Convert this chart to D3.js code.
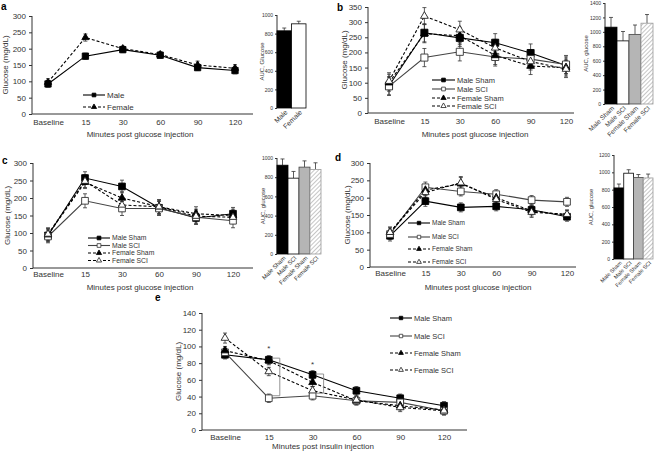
<!DOCTYPE html>
<html><head><meta charset="utf-8">
<script src="https://cdn.jsdelivr.net/npm/d3@7"></script>
<style>body{margin:0;background:#fff} text{font-family:"Liberation Sans",Arial,sans-serif;fill:#333}</style>
</head><body><svg id="c" width="654" height="451"></svg>
<script>
// ---------------- DATA ----------------
const timeLabels = ["Baseline","15","30","60","90","120"];
const groups2 = ["Male","Female"];
const groups4 = ["Male Sham","Male SCI","Female Sham","Female SCI"];

// panel a
const aMale = [92,177,197,180,142,133];
const aMaleErr = [10,9,9,9,9,10];
const aFemale = [97,234,200,182,150,140];
const aFemaleErr = [11,11,8,8,12,11];
const aAUC = [830,905];
const aAUCErr = [30,28];

// panel b
const bMaleSham = [90,265,248,232,198,157];
const bMaleShamErr = [30,30,28,30,30,28];
const bMaleSCI = [88,183,202,185,178,160];
const bMaleSCIErr = [30,30,30,30,30,30];
const bFemaleSham = [100,262,255,190,155,150];
const bFemaleShamErr = [28,30,28,30,28,28];
const bFemaleSCI = [105,320,275,215,170,145];
const bFemaleSCIErr = [28,28,28,28,28,28];
const bAUC = [1065,875,965,1120];
const bAUCErr = [135,130,130,120];

// panel c
const cMaleSham = [93,257,233,172,143,155];
const cMaleShamErr = [18,18,18,20,18,18];
const cMaleSCI = [90,192,170,170,145,135];
const cMaleSCIErr = [18,20,20,20,20,20];
const cFemaleSham = [95,245,200,175,155,150];
const cFemaleShamErr = [18,18,18,20,20,18];
const cFemaleSCI = [97,248,180,175,148,145];
const cFemaleSCIErr = [18,18,18,20,20,18];
const cAUC = [925,790,905,880];
const cAUCErr = [65,70,65,70];

// panel d
const dMaleSham = [90,190,172,175,165,145];
const dMaleShamErr = [15,15,13,13,13,13];
const dMaleSCI = [95,230,218,210,193,188];
const dMaleSCIErr = [15,15,13,13,13,13];
const dFemaleSham = [100,222,240,200,162,150];
const dFemaleShamErr = [15,15,18,15,15,13];
const dFemaleSCI = [100,215,243,195,158,152];
const dFemaleSCIErr = [15,15,18,15,15,13];
const dAUC = [820,990,940,935];
const dAUCErr = [45,40,35,45];

// panel e
const eMaleSham = [90,84,66,47,38,29];
const eMaleShamErr = [5,5,5,5,5,5];
const eMaleSCI = [93,38,41,35,33,23];
const eMaleSCIErr = [5,5,5,5,5,5];
const eFemaleSham = [95,83,57,35,29,24];
const eFemaleShamErr = [5,5,5,5,5,5];
const eFemaleSCI = [110,70,47,36,27,23];
const eFemaleSCIErr = [6,5,5,5,5,5];
const eBrackets = [{t:"15",hi:86,lo:41},{t:"30",hi:67,lo:44}];
const eStars = [{t:"15",v:100},{t:"30",v:81}];

// ---------------- STYLES ----------------
const styles = {
  "Male":        {marker:d3.symbolSquare,   fill:"#000", stroke:"#000", line:"#000", dash:null},
  "Female":      {marker:d3.symbolTriangle, fill:"#000", stroke:"#000", line:"#000", dash:"3,2"},
  "Male Sham":   {marker:d3.symbolSquare,   fill:"#000", stroke:"#000", line:"#000", dash:null},
  "Male SCI":    {marker:d3.symbolSquare,   fill:"#fff", stroke:"#333", line:"#444", dash:null},
  "Female Sham": {marker:d3.symbolTriangle, fill:"#000", stroke:"#000", line:"#000", dash:"3,2"},
  "Female SCI":  {marker:d3.symbolTriangle, fill:"#fff", stroke:"#222", line:"#000", dash:"3,2"}
};
const barFill = {"Male":"#000","Female":"#fff","Male Sham":"#000","Male SCI":"#fff","Female Sham":"#b5b5b5","Female SCI":"url(#hatch)"};
const barStroke = {"Male":"#000","Female":"#000","Male Sham":"#000","Male SCI":"#000","Female Sham":"#444","Female SCI":"#999"};

const svg = d3.select("#c");
const defs = svg.append("defs");
const pat = defs.append("pattern").attr("id","hatch").attr("patternUnits","userSpaceOnUse")
  .attr("width",3).attr("height",3).attr("patternTransform","rotate(45)");
pat.append("rect").attr("width",3).attr("height",3).attr("fill","#fff");
pat.append("line").attr("x1",0).attr("y1",0).attr("x2",0).attr("y2",3).attr("stroke","#a8a8a8").attr("stroke-width",1.3);

function linePanel(cfg){
  const g = svg.append("g");
  const x = d3.scalePoint().domain(timeLabels).range(cfg.xr);
  const y = d3.scaleLinear().domain(cfg.yd).range(cfg.yr);
  const ya = g.append("g").attr("transform",`translate(${cfg.ax[0]},0)`)
    .call(d3.axisLeft(y).tickValues(d3.range(cfg.yd[0],cfg.yd[1]+1,cfg.ystep)).tickSize(3).tickSizeOuter(0).tickPadding(3));
  ya.selectAll("text").attr("font-size",8).attr("fill","#333");
  ya.select(".domain").attr("stroke","#333").attr("d",`M0,${cfg.yr[0]}V${cfg.yr[1]}`);
  ya.selectAll(".tick line").attr("stroke","#333");
  g.append("line").attr("x1",cfg.ax[0]).attr("x2",cfg.ax[1]).attr("y1",cfg.yr[0]).attr("y2",cfg.yr[0]).attr("stroke","#333");
  const xa = g.append("g").attr("transform",`translate(0,${cfg.yr[0]})`)
    .call(d3.axisBottom(x).tickSize(0).tickPadding(cfg.xpad||5));
  xa.select(".domain").remove();
  xa.selectAll("text").attr("font-size",8).attr("fill","#333");
  g.append("text").attr("x",cfg.titleX).attr("y",cfg.titleY).attr("text-anchor","middle").attr("font-size",8).text(cfg.title);
  g.append("text").attr("transform",`translate(${cfg.ylx},${(cfg.yr[0]+cfg.yr[1])/2}) rotate(-90)`)
    .attr("text-anchor","middle").attr("font-size",8).attr("dy","0.35em").text("Glucose (mg/dL)");
  cfg.series.forEach(s=>{
    s.values.forEach((v,i)=>{
      const cx = x(timeLabels[i]);
      const e = s.err[i];
      const eg = g.append("g").attr("stroke","#333").attr("stroke-width",0.8);
      eg.append("line").attr("x1",cx).attr("x2",cx).attr("y1",y(v-e)).attr("y2",y(v+e));
      eg.append("line").attr("x1",cx-2).attr("x2",cx+2).attr("y1",y(v-e)).attr("y2",y(v-e));
      eg.append("line").attr("x1",cx-2).attr("x2",cx+2).attr("y1",y(v+e)).attr("y2",y(v+e));
    });
  });
  cfg.series.forEach(s=>{
    const st = styles[s.name];
    g.append("path").datum(s.values)
      .attr("d",d3.line().x((d,i)=>x(timeLabels[i])).y(d=>y(d)))
      .attr("fill","none").attr("stroke",st.line).attr("stroke-width",1.1)
      .attr("stroke-dasharray",st.dash);
  });
  cfg.series.forEach(s=>{
    const st = styles[s.name];
    const size = st.marker===d3.symbolSquare ? cfg.sq : cfg.tri;
    g.selectAll(null).data(s.values).join("path")
      .attr("transform",(d,i)=>`translate(${x(timeLabels[i])},${y(d)})`)
      .attr("d",d3.symbol(st.marker,size))
      .attr("fill",st.fill).attr("stroke",st.stroke).attr("stroke-width",0.9);
  });
  const L = cfg.legend;
  cfg.series.forEach((s,i)=>{
    const st = styles[s.name];
    const ly = L.ys[i];
    g.append("line").attr("x1",L.x0).attr("x2",L.x1).attr("y1",ly).attr("y2",ly)
      .attr("stroke",st.line).attr("stroke-width",1.1).attr("stroke-dasharray",st.dash);
    const size = st.marker===d3.symbolSquare ? L.sq : L.tri;
    g.append("path").attr("transform",`translate(${(L.x0+L.x1)/2},${ly})`)
      .attr("d",d3.symbol(st.marker,size)).attr("fill",st.fill).attr("stroke",st.stroke).attr("stroke-width",0.8);
    g.append("text").attr("x",L.x1+2).attr("y",ly).attr("dy","0.35em").attr("font-size",L.fs).text(s.name);
  });
  return {g,x,y};
}

function barPanel(cfg){
  const g = svg.append("g");
  const x = d3.scaleBand().domain(cfg.groups).range([cfg.x0,cfg.x1]).padding(0);
  const y = d3.scaleLinear().domain(cfg.yd).range(cfg.yr);
  const ya = g.append("g").attr("transform",`translate(${cfg.x0},0)`)
    .call(d3.axisLeft(y).tickValues(d3.range(0,cfg.yd[1]+1,200)).tickFormat(d3.format("d")).tickSize(2).tickSizeOuter(0).tickPadding(2));
  ya.selectAll("text").attr("font-size",5).attr("fill","#333");
  ya.select(".domain").attr("stroke","#333").attr("d",`M0,${cfg.yr[0]}V${cfg.yr[1]}`);
  ya.selectAll(".tick line").attr("stroke","#333");
  cfg.values.forEach((v,i)=>{
    const cx = x(cfg.groups[i]) + x.bandwidth()/2;
    const e = cfg.err[i];
    g.append("line").attr("x1",cx).attr("x2",cx).attr("y1",y(v)).attr("y2",y(v+e)).attr("stroke","#333").attr("stroke-width",0.8);
    g.append("line").attr("x1",cx-2).attr("x2",cx+2).attr("y1",y(v+e)).attr("y2",y(v+e)).attr("stroke","#333").attr("stroke-width",0.8);
  });
  g.selectAll(null).data(cfg.values).join("rect")
    .attr("x",(d,i)=>x(cfg.groups[i])).attr("width",x.bandwidth())
    .attr("y",d=>y(d)).attr("height",d=>y(0)-y(d))
    .attr("fill",(d,i)=>barFill[cfg.groups[i]]).attr("stroke",(d,i)=>barStroke[cfg.groups[i]]).attr("stroke-width",0.8);
  cfg.groups.forEach(n=>{
    const cx = x(n)+x.bandwidth()/2;
    g.append("text").attr("transform",`translate(${cx+2},${cfg.yr[0]+3}) rotate(-45)`)
      .attr("text-anchor","end").attr("dy","0.35em").attr("font-size",cfg.fs||6).text(n);
  });
  g.append("text").attr("transform",`translate(${cfg.lx},${(cfg.yr[0]+cfg.yr[1])/2}) rotate(-90)`)
    .attr("text-anchor","middle").attr("dy","0.35em").attr("font-size",6).text(cfg.label);
}

function letter(t,x,y){
  svg.append("text").attr("x",x).attr("y",y).attr("font-size",10).attr("font-weight","bold").style("fill","#000").text(t);
}

const ser4 = (ms,mse,mc,mce,fs,fse,fc,fce)=>[
  {name:"Male Sham",values:ms,err:mse},{name:"Male SCI",values:mc,err:mce},
  {name:"Female Sham",values:fs,err:fse},{name:"Female SCI",values:fc,err:fce}];

// a
linePanel({xr:[48,235],ax:[32,253],yd:[0,300],yr:[114,16],ystep:50,
  title:"Minutes post glucose injection",titleX:140,titleY:137,ylx:5,sq:40,tri:22,
  series:[{name:"Male",values:aMale,err:aMaleErr},{name:"Female",values:aFemale,err:aFemaleErr}],
  legend:{x0:83,x1:105,ys:[95,107],fs:8,sq:14,tri:12}});
barPanel({groups:groups2,values:aAUC,err:aAUCErr,x0:277,x1:306,yd:[0,1000],yr:[108,15],lx:262,label:"AUC, Glucose",fs:7});
letter("a",1,10);

// b
linePanel({xr:[389,566],ax:[368,574],yd:[0,350],yr:[113,7],ystep:50,
  title:"Minutes post glucose injection",titleX:475,titleY:137,ylx:344,sq:50,tri:26,
  series:ser4(bMaleSham,bMaleShamErr,bMaleSCI,bMaleSCIErr,bFemaleSham,bFemaleShamErr,bFemaleSCI,bFemaleSCIErr),
  legend:{x0:432,x1:455,ys:[80,89,98,106],fs:7.5,sq:14,tri:12}});
barPanel({groups:groups4,values:bAUC,err:bAUCErr,x0:605,x1:653,yd:[0,1400],yr:[104,3],lx:586,label:"AUC, glucose",fs:6.5});
letter("b",337,11);

// c
linePanel({xr:[48,233],ax:[33,253],yd:[0,300],yr:[268,163],ystep:50,
  title:"Minutes post glucose injection",titleX:140,titleY:290,ylx:7,sq:45,tri:24,xpad:3,
  series:ser4(cMaleSham,cMaleShamErr,cMaleSCI,cMaleSCIErr,cFemaleSham,cFemaleShamErr,cFemaleSCI,cFemaleSCIErr),
  legend:{x0:88,x1:110,ys:[238,245.5,253,260.5],fs:6.8,sq:14,tri:12}});
barPanel({groups:groups4,values:cAUC,err:cAUCErr,x0:277,x1:321,yd:[0,1000],yr:[254,158],lx:263,label:"AUC, glucose",fs:6});
letter("c",2,164);

// d
linePanel({xr:[390,567],ax:[370,576],yd:[0,300],yr:[267,163],ystep:50,
  title:"Minutes post glucose injection",titleX:478,titleY:290,ylx:347,sq:45,tri:24,xpad:3,
  series:ser4(dMaleSham,dMaleShamErr,dMaleSCI,dMaleSCIErr,dFemaleSham,dFemaleShamErr,dFemaleSCI,dFemaleSCIErr),
  legend:{x0:408,x1:430,ys:[223,237,249,262],fs:6.5,sq:12,tri:10}});
barPanel({groups:groups4,values:dAUC,err:dAUCErr,x0:614,x1:653,yd:[0,1200],yr:[259,155],lx:591,label:"AUC, glucose",fs:5.5});
letter("d",335,161);

// e
const E = linePanel({xr:[225,444],ax:[202,467],yd:[0,140],yr:[430,313],ystep:20,
  title:"Minutes post insulin injection",titleX:323,titleY:449,ylx:178,sq:45,tri:26,xpad:4,
  series:ser4(eMaleSham,eMaleShamErr,eMaleSCI,eMaleSCIErr,eFemaleSham,eFemaleShamErr,eFemaleSCI,eFemaleSCIErr),
  legend:{x0:390,x1:412,ys:[318,336,353,370],fs:7.5,sq:12,tri:10}});
eBrackets.forEach(b=>{
  const bx = E.x(b.t)+11;
  E.g.append("path").attr("d",`M${bx-8},${E.y(b.hi)}H${bx}V${E.y(b.lo)}H${bx-8}`)
    .attr("fill","none").attr("stroke","#888").attr("stroke-width",0.9);
});
eStars.forEach(s=>{
  E.g.append("text").attr("x",E.x(s.t)).attr("y",E.y(s.v)).attr("dy","0.6em").attr("text-anchor","middle").attr("font-size",8).text("*");
});
letter("e",155,301);
</script></body></html>
